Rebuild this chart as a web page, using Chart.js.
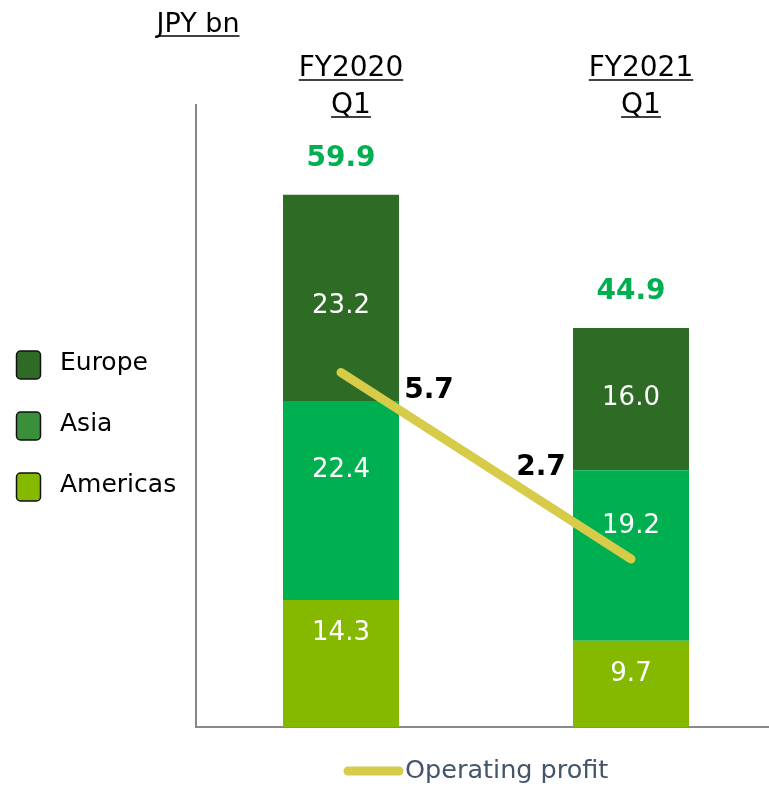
<!DOCTYPE html>
<html>
<head>
<meta charset="utf-8">
<script src="https://cdn.jsdelivr.net/npm/chart.js@4"></script>
<style>
html, body { margin: 0; padding: 0; overflow: hidden; background: #fff; }
#wrap { position: relative; width: 776px; height: 787px; }
</style>
</head>
<body>
<div id="wrap"><canvas id="salesChart"></canvas></div>
<script>
// values
const categories = [['FY2020', 'Q1'], ['FY2021', 'Q1']];
const americas = [14.3, 9.7];
const asia = [22.4, 19.2];
const europe = [23.2, 16.0];
const totals = [59.9, 44.9];
const operatingProfit = [5.7, 2.7];

const FONT = 'DejaVu Sans';
Chart.defaults.font.family = FONT;

// little vertical nudges so the white numbers sit where the slide has them
const segNudge = {
    Americas: [-30, -10],
    Asia: [-30, -29],
    Europe: [8, -1]
};
const opOffset = [[88, 18], [-90, -91]];

const legendLeft = [
    { text: 'Europe', color: '#2e6b25' },
    { text: 'Asia', color: '#3a8f3a' },
    { text: 'Americas', color: '#84b900' }
];

function underlined(ctx, text, x, y, font, color) {
    ctx.font = font;
    ctx.fillStyle = color;
    ctx.textAlign = 'center';
    ctx.textBaseline = 'alphabetic';
    ctx.fillText(text, x, y);
    const w = ctx.measureText(text).width;
    ctx.strokeStyle = color;
    ctx.lineWidth = 1.5;
    ctx.beginPath();
    ctx.moveTo(x - w / 2, y + 4);
    ctx.lineTo(x + w / 2, y + 4);
    ctx.stroke();
}

const labelsPlugin = {
    id: 'slideLabels',
    afterDatasetsDraw(chart) {
        const ctx = chart.ctx;
        const xs = chart.scales.x;
        const ys = chart.scales.y;
        ctx.save();

        // numbers inside the bar segments
        chart.data.datasets.forEach((ds, di) => {
            if (ds.type === 'line') return;
            const meta = chart.getDatasetMeta(di);
            meta.data.forEach((bar, i) => {
                const cy = (bar.y + bar.base) / 2 + segNudge[ds.label][i];
                ctx.font = '26px ' + FONT;
                ctx.fillStyle = '#ffffff';
                ctx.textAlign = 'center';
                ctx.textBaseline = 'middle';
                ctx.fillText(ds.data[i].toFixed(1), bar.x, cy);
            });
        });

        // totals above the bars
        totals.forEach((t, i) => {
            ctx.font = 'bold 28px ' + FONT;
            ctx.fillStyle = '#00b050';
            ctx.textAlign = 'center';
            ctx.textBaseline = 'middle';
            ctx.fillText(t.toFixed(1), xs.getPixelForValue(i), ys.getPixelForValue(t) - 36);
        });

        // operating profit values
        const lineIdx = chart.data.datasets.findIndex(d => d.type === 'line');
        const lineDs = chart.data.datasets[lineIdx];
        chart.getDatasetMeta(lineIdx).data.forEach((pt, i) => {
            ctx.font = 'bold 28px ' + FONT;
            ctx.fillStyle = '#000000';
            ctx.textAlign = 'center';
            ctx.textBaseline = 'middle';
            ctx.fillText(operatingProfit[i].toFixed(1), pt.x + opOffset[i][0], pt.y + opOffset[i][1]);
        });

        // category headers
        categories.forEach((lines, i) => {
            const cx = xs.getPixelForValue(i) + 10;
            underlined(ctx, lines[0], cx, 76, '28px ' + FONT, '#000');
            underlined(ctx, lines[1], cx, 113, '28px ' + FONT, '#000');
        });

        underlined(ctx, 'JPY bn', 198, 32, '27px ' + FONT, '#000');

        // left legend for the regions
        legendLeft.forEach((item, k) => {
            const cy = 365 + k * 61;
            ctx.beginPath();
            ctx.roundRect(16.5, cy - 14, 24, 28, 4);
            ctx.fillStyle = item.color;
            ctx.fill();
            ctx.lineWidth = 1.5;
            ctx.strokeStyle = '#111';
            ctx.stroke();
            ctx.font = '25px ' + FONT;
            ctx.fillStyle = '#000';
            ctx.textAlign = 'left';
            ctx.textBaseline = 'middle';
            ctx.fillText(item.text, 60, cy - 2);
        });

        // bottom legend for the line
        ctx.beginPath();
        ctx.moveTo(348, 771);
        ctx.lineTo(399, 771);
        ctx.lineWidth = lineDs.borderWidth;
        ctx.lineCap = 'round';
        ctx.strokeStyle = lineDs.borderColor;
        ctx.stroke();
        ctx.font = '25.5px ' + FONT;
        ctx.fillStyle = '#44546a';
        ctx.textAlign = 'left';
        ctx.textBaseline = 'middle';
        ctx.fillText(lineDs.label, 405, 771);
        ctx.restore();
    }
};

const chart = new Chart(document.getElementById('salesChart'), {
    data: {
        labels: categories.map(c => c.join(' ')),
        datasets: [
            {
                type: 'line',
                label: 'Operating profit',
                data: operatingProfit,
                yAxisID: 'y2',
                borderColor: '#d6cc4a',
                backgroundColor: '#d6cc4a',
                borderWidth: 9,
                borderCapStyle: 'round',
                pointRadius: 0,
                clip: false,
                order: 0
            },
            { type: 'bar', label: 'Americas', data: americas, backgroundColor: '#84b900', order: 1 },
            { type: 'bar', label: 'Asia', data: asia, backgroundColor: '#00b050', order: 1 },
            { type: 'bar', label: 'Europe', data: europe, backgroundColor: '#2e6b25', order: 1 }
        ]
    },
    plugins: [labelsPlugin],
    options: {
        responsive: true,
        maintainAspectRatio: false,
        animation: false,
        layout: { padding: { left: 188, top: 105, right: 0, bottom: 52 } },
        datasets: { bar: { barPercentage: 0.4, categoryPercentage: 1.0 } },
        plugins: {
            tooltip: { enabled: false },
            legend: { display: false }
        },
        scales: {
            x: {
                stacked: true,
                grid: { display: false },
                ticks: { display: false },
                border: { display: true, color: '#888', width: 2 }
            },
            y: {
                stacked: true,
                min: 0,
                max: 70,
                grid: { display: false },
                ticks: { display: false },
                border: { display: true, color: '#888', width: 2 }
            },
            y2: {
                display: false,
                min: 0,
                max: 10
            }
        }
    }
});
</script>
</body>
</html>
